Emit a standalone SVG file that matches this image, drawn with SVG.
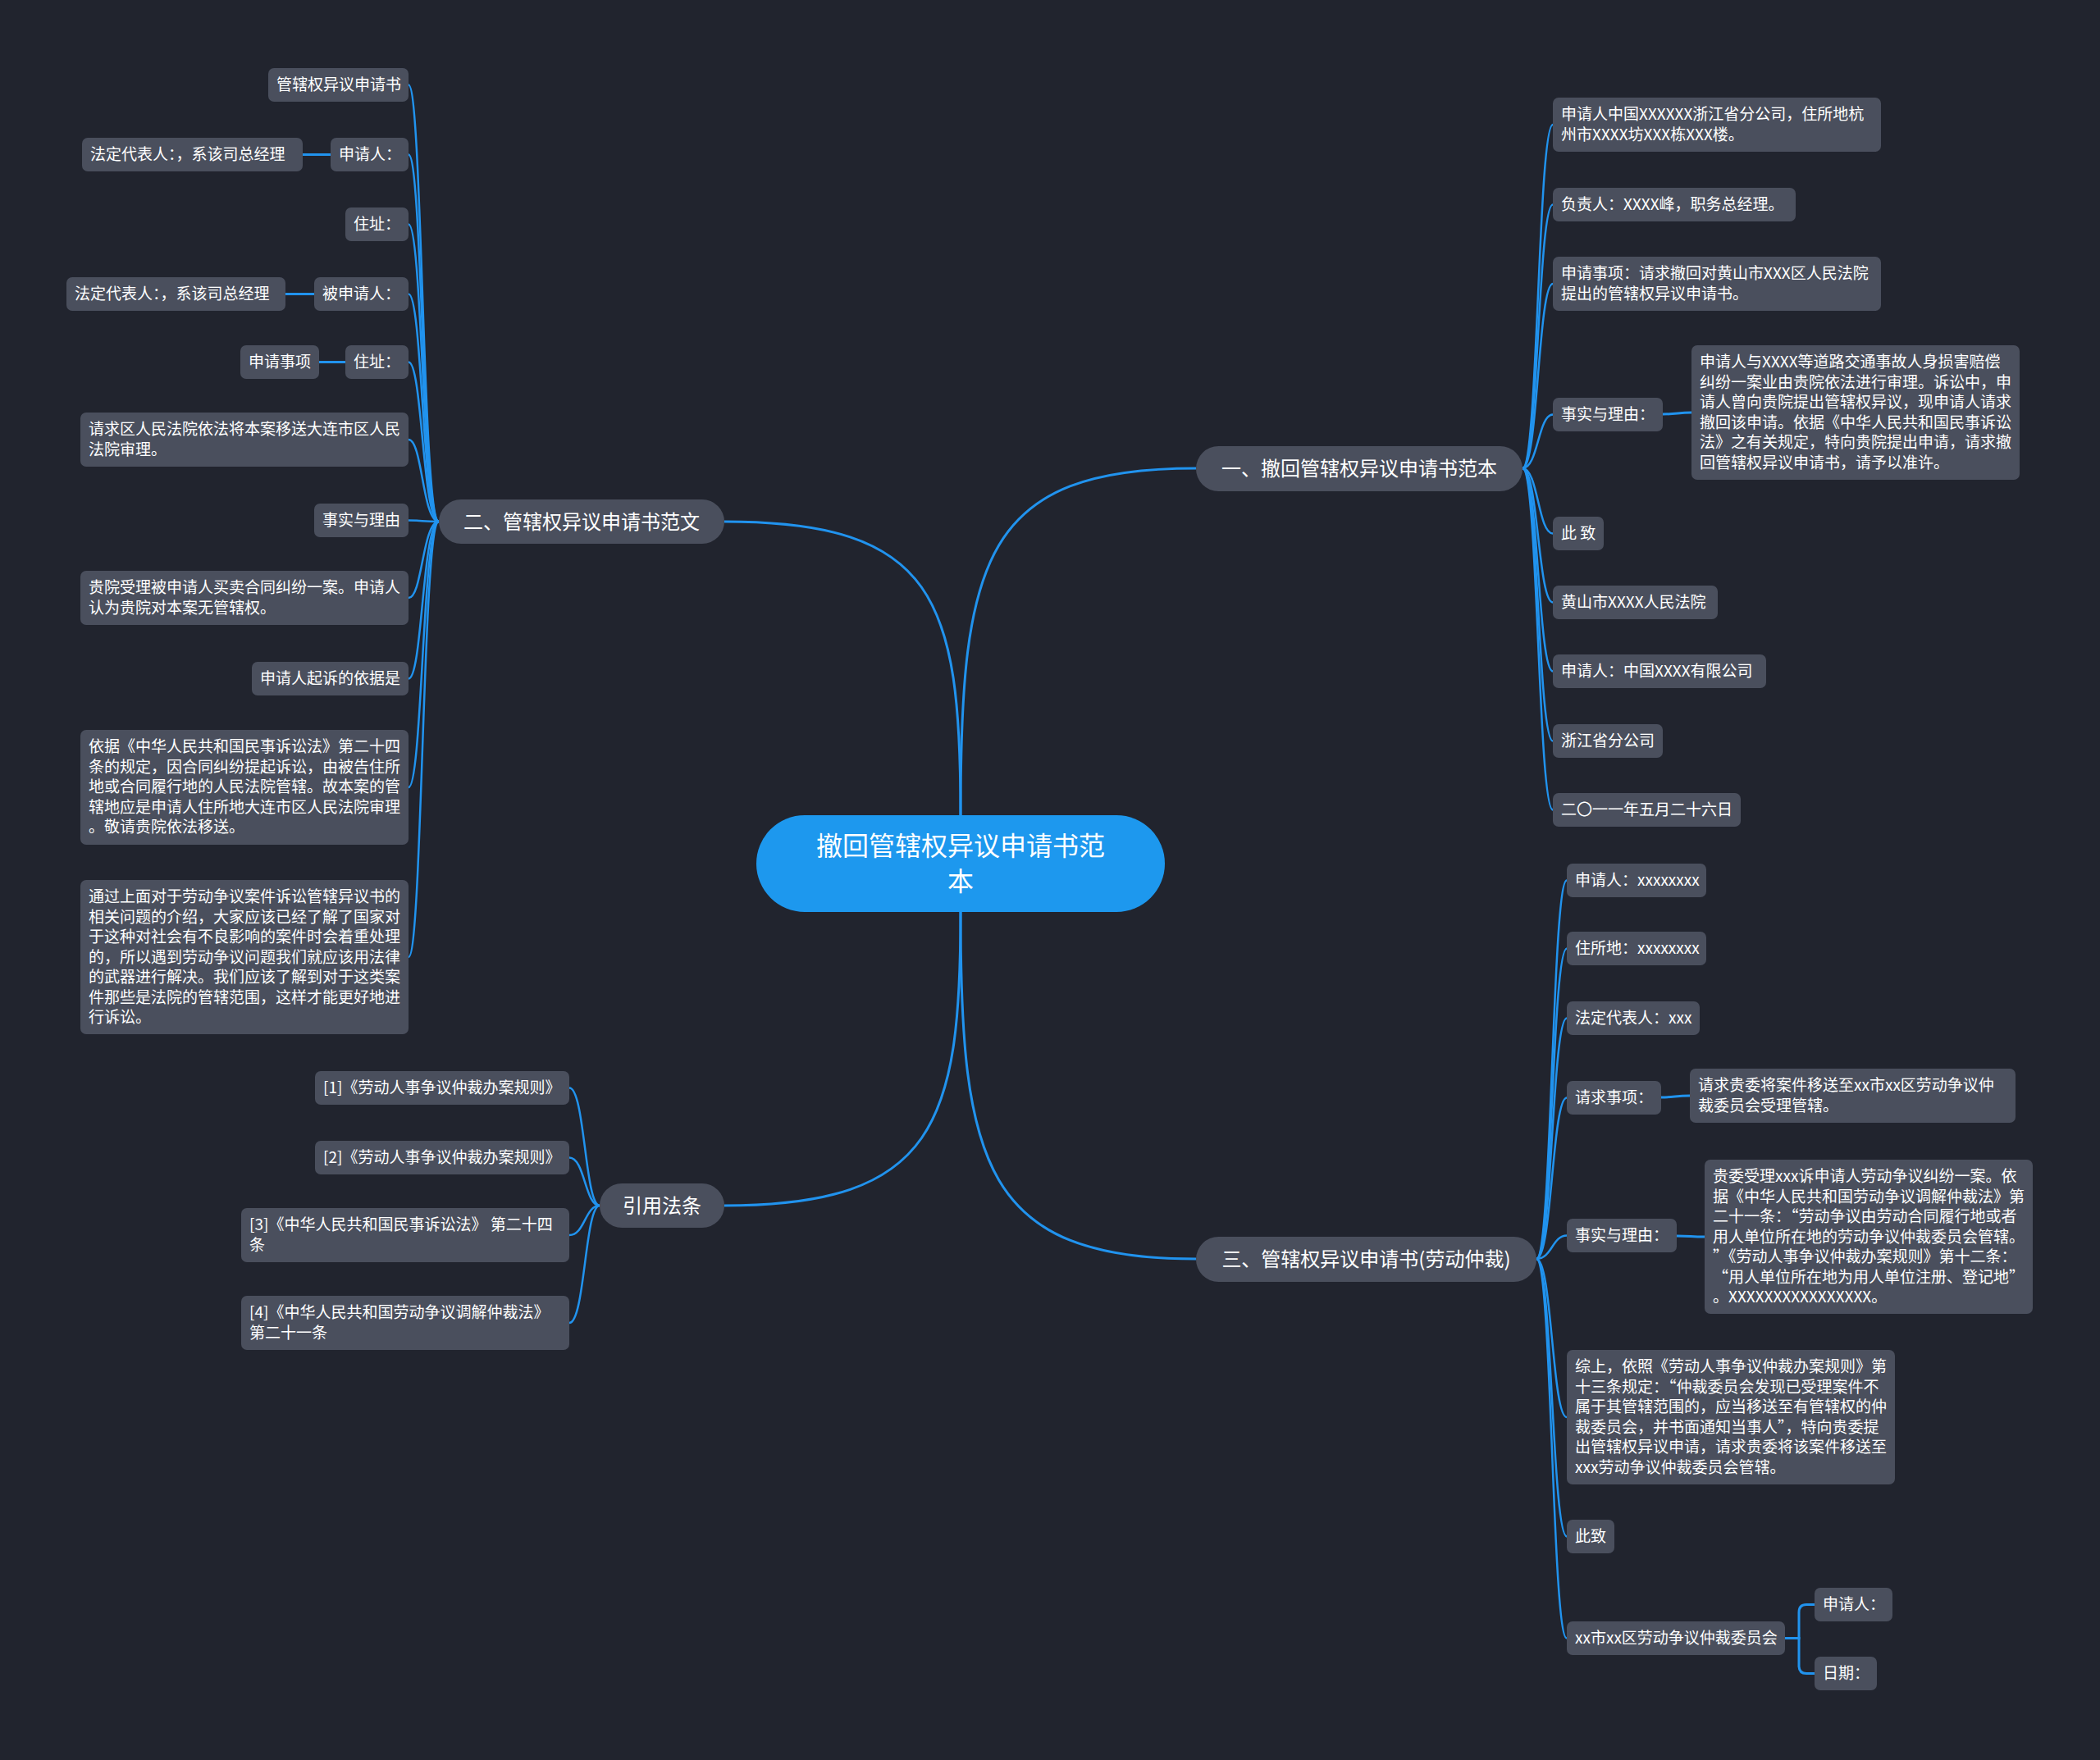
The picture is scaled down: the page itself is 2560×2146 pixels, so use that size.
<svg xmlns="http://www.w3.org/2000/svg" width="2560" height="2146" viewBox="0 0 2560 2146">
<style>
.n{fill:#4a4f5d}
.t{fill:#ffffff;font-family:"Noto Sans CJK SC","Noto Sans",sans-serif;font-size:19px}
.bt{fill:#ffffff;font-family:"Noto Sans CJK SC","Noto Sans",sans-serif;font-size:24px;text-anchor:middle}
.ct{fill:#ffffff;font-family:"Noto Sans CJK SC","Noto Sans",sans-serif;font-size:32px;text-anchor:middle}
.l{fill:none;stroke:#2193ee;stroke-width:2.5}
.m{fill:none;stroke:#2193ee;stroke-width:3}
</style>
<rect x="0" y="0" width="2560" height="2146" fill="#21242e"/>
<g id="connectors">
<path class="m" d="M1171,994 C1171,680 1200,571 1458,571"/>
<path class="m" d="M1171,994 C1171,730 1140,636 883,636"/>
<path class="m" d="M1171,1112 C1171,1420 1200,1535 1458,1535"/>
<path class="m" d="M1171,1112 C1171,1370 1140,1470 883,1470"/>
<path class="l" d="M535,636 C515,636 515,103.5 498,103.5"/>
<path class="l" d="M535,636 C515,636 515,188.5 498,188.5"/>
<path class="l" d="M535,636 C515,636 515,273.5 498,273.5"/>
<path class="l" d="M535,636 C515,636 515,358.5 498,358.5"/>
<path class="l" d="M535,636 C515,636 515,441.5 498,441.5"/>
<path class="l" d="M535,636 C515,636 515,536 498,536"/>
<path class="l" d="M535,636 C515,636 515,634.5 498,634.5"/>
<path class="l" d="M535,636 C515,636 515,729 498,729"/>
<path class="l" d="M535,636 C515,636 515,827.5 498,827.5"/>
<path class="l" d="M535,636 C515,636 515,960 498,960"/>
<path class="l" d="M535,636 C515,636 515,1167 498,1167"/>
<path class="m" d="M369,188.5 H403"/>
<path class="m" d="M348,358.5 H383"/>
<path class="m" d="M389,441.5 H421"/>
<path class="l" d="M1856,571 C1875,571 1875,152 1893,152"/>
<path class="l" d="M1856,571 C1875,571 1875,249.5 1893,249.5"/>
<path class="l" d="M1856,571 C1875,571 1875,346 1893,346"/>
<path class="l" d="M1856,571 C1875,571 1875,505.5 1893,505.5"/>
<path class="l" d="M1856,571 C1875,571 1875,650.5 1893,650.5"/>
<path class="l" d="M1856,571 C1875,571 1875,734.5 1893,734.5"/>
<path class="l" d="M1856,571 C1875,571 1875,818.5 1893,818.5"/>
<path class="l" d="M1856,571 C1875,571 1875,903.5 1893,903.5"/>
<path class="l" d="M1856,571 C1875,571 1875,987.5 1893,987.5"/>
<path class="m" d="M2027,505 C2045,505 2045,503 2062,503"/>
<path class="l" d="M1873,1535 C1892,1535 1892,1073.5 1910,1073.5"/>
<path class="l" d="M1873,1535 C1892,1535 1892,1156.5 1910,1156.5"/>
<path class="l" d="M1873,1535 C1892,1535 1892,1241.5 1910,1241.5"/>
<path class="l" d="M1873,1535 C1892,1535 1892,1338.5 1910,1338.5"/>
<path class="l" d="M1873,1535 C1892,1535 1892,1506.5 1910,1506.5"/>
<path class="l" d="M1873,1535 C1892,1535 1892,1728 1910,1728"/>
<path class="l" d="M1873,1535 C1892,1535 1892,1873.5 1910,1873.5"/>
<path class="l" d="M1873,1535 C1892,1535 1892,1997.5 1910,1997.5"/>
<path class="m" d="M2025,1338 C2042,1338 2042,1336 2060,1336"/>
<path class="m" d="M2044,1507 C2061,1507 2061,1508 2078,1508"/>
<path class="m" d="M2176,1997.5 H2193 V1966 Q2193,1956.5 2202,1956.5 H2212"/>
<path class="m" d="M2176,1997.5 H2193 V2031 Q2193,2040.5 2202,2040.5 H2212"/>
<path class="l" d="M731,1470 C713,1470 713,1326.5 694,1326.5"/>
<path class="l" d="M731,1470 C713,1470 713,1411.5 694,1411.5"/>
<path class="l" d="M731,1470 C713,1470 713,1506 694,1506"/>
<path class="l" d="M731,1470 C713,1470 713,1613 694,1613"/>
</g>
<g id="center"><rect x="922" y="994" width="498" height="118" rx="59" fill="#1d98ee"/><text class="ct" x="1171" y="1043">撤回管辖权异议申请书范</text><text class="ct" x="1171" y="1086">本</text></g>
<g id="b1"><rect class="n" x="1458" y="544" width="398" height="55" rx="27.5"/><text class="bt" x="1657" y="579.5">一、撤回管辖权异议申请书范本</text></g>
<g id="b2"><rect class="n" x="535" y="609" width="348" height="54" rx="27"/><text class="bt" x="709" y="644.5">二、管辖权异议申请书范文</text></g>
<g id="b3"><rect class="n" x="1458" y="1508" width="415" height="55" rx="27.5"/><text class="bt" x="1665.5" y="1544">三、管辖权异议申请书(劳动仲裁)</text></g>
<g id="b4"><rect class="n" x="731" y="1443" width="152" height="54" rx="27"/><text class="bt" x="807" y="1478.5">引用法条</text></g>
<g id="n2_1"><rect class="n" x="327" y="83" width="171" height="41" rx="7"/><text class="t" x="337" y="110">管辖权异议申请书</text></g>
<g id="n2_2"><rect class="n" x="403" y="168" width="95" height="41" rx="7"/><text class="t" x="413" y="195">申请人：</text></g>
<g id="n2_2a"><rect class="n" x="100" y="168" width="269" height="41" rx="7"/><text class="t" x="110" y="195">法定代表人：，系该司总经理</text></g>
<g id="n2_3"><rect class="n" x="421" y="253" width="77" height="41" rx="7"/><text class="t" x="431" y="280">住址：</text></g>
<g id="n2_4"><rect class="n" x="383" y="338" width="115" height="41" rx="7"/><text class="t" x="393" y="365">被申请人：</text></g>
<g id="n2_4a"><rect class="n" x="81" y="338" width="267" height="41" rx="7"/><text class="t" x="91" y="365">法定代表人：，系该司总经理</text></g>
<g id="n2_5"><rect class="n" x="421" y="421" width="77" height="41" rx="7"/><text class="t" x="431" y="448">住址：</text></g>
<g id="n2_5a"><rect class="n" x="293" y="421" width="96" height="41" rx="7"/><text class="t" x="303" y="448">申请事项</text></g>
<g id="n2_6"><rect class="n" x="98" y="503" width="400" height="66" rx="7"/><text class="t" x="108" y="530">请求区人民法院依法将本案移送大连市区人民<tspan x="108" dy="24.5">法院审理。</tspan></text></g>
<g id="n2_7"><rect class="n" x="383" y="614" width="115" height="41" rx="7"/><text class="t" x="393" y="641">事实与理由</text></g>
<g id="n2_8"><rect class="n" x="98" y="696" width="400" height="66" rx="7"/><text class="t" x="108" y="723">贵院受理被申请人买卖合同纠纷一案。申请人<tspan x="108" dy="24.5">认为贵院对本案无管辖权。</tspan></text></g>
<g id="n2_9"><rect class="n" x="307" y="807" width="191" height="41" rx="7"/><text class="t" x="317" y="834">申请人起诉的依据是</text></g>
<g id="n2_10"><rect class="n" x="98" y="890" width="400" height="140" rx="7"/><text class="t" x="108" y="917">依据《中华人民共和国民事诉讼法》第二十四<tspan x="108" dy="24.5">条的规定，因合同纠纷提起诉讼，由被告住所</tspan><tspan x="108" dy="24.5">地或合同履行地的人民法院管辖。故本案的管</tspan><tspan x="108" dy="24.5">辖地应是申请人住所地大连市区人民法院审理</tspan><tspan x="108" dy="24.5">。敬请贵院依法移送。</tspan></text></g>
<g id="n2_11"><rect class="n" x="98" y="1073" width="400" height="188" rx="7"/><text class="t" x="108" y="1100">通过上面对于劳动争议案件诉讼管辖异议书的<tspan x="108" dy="24.5">相关问题的介绍，大家应该已经了解了国家对</tspan><tspan x="108" dy="24.5">于这种对社会有不良影响的案件时会着重处理</tspan><tspan x="108" dy="24.5">的，所以遇到劳动争议问题我们就应该用法律</tspan><tspan x="108" dy="24.5">的武器进行解决。我们应该了解到对于这类案</tspan><tspan x="108" dy="24.5">件那些是法院的管辖范围，这样才能更好地进</tspan><tspan x="108" dy="24.5">行诉讼。</tspan></text></g>
<g id="n1_1"><rect class="n" x="1893" y="119" width="400" height="66" rx="7"/><text class="t" x="1903" y="146">申请人中国XXXXXX浙江省分公司，住所地杭<tspan x="1903" dy="24.5">州市XXXX坊XXX栋XXX楼。</tspan></text></g>
<g id="n1_2"><rect class="n" x="1893" y="229" width="296" height="41" rx="7"/><text class="t" x="1903" y="256">负责人：XXXX峰，职务总经理。</text></g>
<g id="n1_3"><rect class="n" x="1893" y="313" width="400" height="66" rx="7"/><text class="t" x="1903" y="340">申请事项：请求撤回对黄山市XXX区人民法院<tspan x="1903" dy="24.5">提出的管辖权异议申请书。</tspan></text></g>
<g id="n1_4"><rect class="n" x="1893" y="485" width="134" height="41" rx="7"/><text class="t" x="1903" y="512">事实与理由：</text></g>
<g id="n1_4a"><rect class="n" x="2062" y="421" width="400" height="164" rx="7"/><text class="t" x="2072" y="448">申请人与XXXX等道路交通事故人身损害赔偿<tspan x="2072" dy="24.5">纠纷一案业由贵院依法进行审理。诉讼中，申</tspan><tspan x="2072" dy="24.5">请人曾向贵院提出管辖权异议，现申请人请求</tspan><tspan x="2072" dy="24.5">撤回该申请。依据《中华人民共和国民事诉讼</tspan><tspan x="2072" dy="24.5">法》之有关规定，特向贵院提出申请，请求撤</tspan><tspan x="2072" dy="24.5">回管辖权异议申请书，请予以准许。</tspan></text></g>
<g id="n1_5"><rect class="n" x="1893" y="630" width="62" height="41" rx="7"/><text class="t" x="1903" y="657">此 致</text></g>
<g id="n1_6"><rect class="n" x="1893" y="714" width="201" height="41" rx="7"/><text class="t" x="1903" y="741">黄山市XXXX人民法院</text></g>
<g id="n1_7"><rect class="n" x="1893" y="798" width="260" height="41" rx="7"/><text class="t" x="1903" y="825">申请人：中国XXXX有限公司</text></g>
<g id="n1_8"><rect class="n" x="1893" y="883" width="134" height="41" rx="7"/><text class="t" x="1903" y="910">浙江省分公司</text></g>
<g id="n1_9"><rect class="n" x="1893" y="967" width="229" height="41" rx="7"/><text class="t" x="1903" y="994">二〇一一年五月二十六日</text></g>
<g id="n3_1"><rect class="n" x="1910" y="1053" width="170" height="41" rx="7"/><text class="t" x="1920" y="1080">申请人：xxxxxxxx</text></g>
<g id="n3_2"><rect class="n" x="1910" y="1136" width="170" height="41" rx="7"/><text class="t" x="1920" y="1163">住所地：xxxxxxxx</text></g>
<g id="n3_3"><rect class="n" x="1910" y="1221" width="162" height="41" rx="7"/><text class="t" x="1920" y="1248">法定代表人：xxx</text></g>
<g id="n3_4"><rect class="n" x="1910" y="1318" width="115" height="41" rx="7"/><text class="t" x="1920" y="1345">请求事项：</text></g>
<g id="n3_4a"><rect class="n" x="2060" y="1303" width="397" height="66" rx="7"/><text class="t" x="2070" y="1330">请求贵委将案件移送至xx市xx区劳动争议仲<tspan x="2070" dy="24.5">裁委员会受理管辖。</tspan></text></g>
<g id="n3_5"><rect class="n" x="1910" y="1486" width="134" height="41" rx="7"/><text class="t" x="1920" y="1513">事实与理由：</text></g>
<g id="n3_5a"><rect class="n" x="2078" y="1414" width="400" height="188" rx="7"/><text class="t" x="2088" y="1441">贵委受理xxx诉申请人劳动争议纠纷一案。依<tspan x="2088" dy="24.5">据《中华人民共和国劳动争议调解仲裁法》第</tspan><tspan x="2088" dy="24.5">二十一条：“劳动争议由劳动合同履行地或者</tspan><tspan x="2088" dy="24.5">用人单位所在地的劳动争议仲裁委员会管辖。</tspan><tspan x="2088" dy="24.5">”《劳动人事争议仲裁办案规则》第十二条：</tspan><tspan x="2088" dy="24.5">“用人单位所在地为用人单位注册、登记地”</tspan><tspan x="2088" dy="24.5">。XXXXXXXXXXXXXXXX。</tspan></text></g>
<g id="n3_6"><rect class="n" x="1910" y="1646" width="400" height="164" rx="7"/><text class="t" x="1920" y="1673">综上，依照《劳动人事争议仲裁办案规则》第<tspan x="1920" dy="24.5">十三条规定：“仲裁委员会发现已受理案件不</tspan><tspan x="1920" dy="24.5">属于其管辖范围的，应当移送至有管辖权的仲</tspan><tspan x="1920" dy="24.5">裁委员会，并书面通知当事人”，特向贵委提</tspan><tspan x="1920" dy="24.5">出管辖权异议申请，请求贵委将该案件移送至</tspan><tspan x="1920" dy="24.5">xxx劳动争议仲裁委员会管辖。</tspan></text></g>
<g id="n3_7"><rect class="n" x="1910" y="1853" width="58" height="41" rx="7"/><text class="t" x="1920" y="1880">此致</text></g>
<g id="n3_8"><rect class="n" x="1910" y="1977" width="266" height="41" rx="7"/><text class="t" x="1920" y="2004">xx市xx区劳动争议仲裁委员会</text></g>
<g id="n3_8a"><rect class="n" x="2212" y="1936" width="95" height="41" rx="7"/><text class="t" x="2222" y="1963">申请人：</text></g>
<g id="n3_8b"><rect class="n" x="2212" y="2020" width="76" height="41" rx="7"/><text class="t" x="2222" y="2047">日期：</text></g>
<g id="n4_1"><rect class="n" x="384" y="1306" width="310" height="41" rx="7"/><text class="t" x="394" y="1333">[1]《劳动人事争议仲裁办案规则》</text></g>
<g id="n4_2"><rect class="n" x="384" y="1391" width="310" height="41" rx="7"/><text class="t" x="394" y="1418">[2]《劳动人事争议仲裁办案规则》</text></g>
<g id="n4_3"><rect class="n" x="294" y="1473" width="400" height="66" rx="7"/><text class="t" x="304" y="1500">[3]《中华人民共和国民事诉讼法》 第二十四<tspan x="304" dy="24.5">条</tspan></text></g>
<g id="n4_4"><rect class="n" x="294" y="1580" width="400" height="66" rx="7"/><text class="t" x="304" y="1607">[4]《中华人民共和国劳动争议调解仲裁法》<tspan x="304" dy="24.5">第二十一条</tspan></text></g>
</svg>
